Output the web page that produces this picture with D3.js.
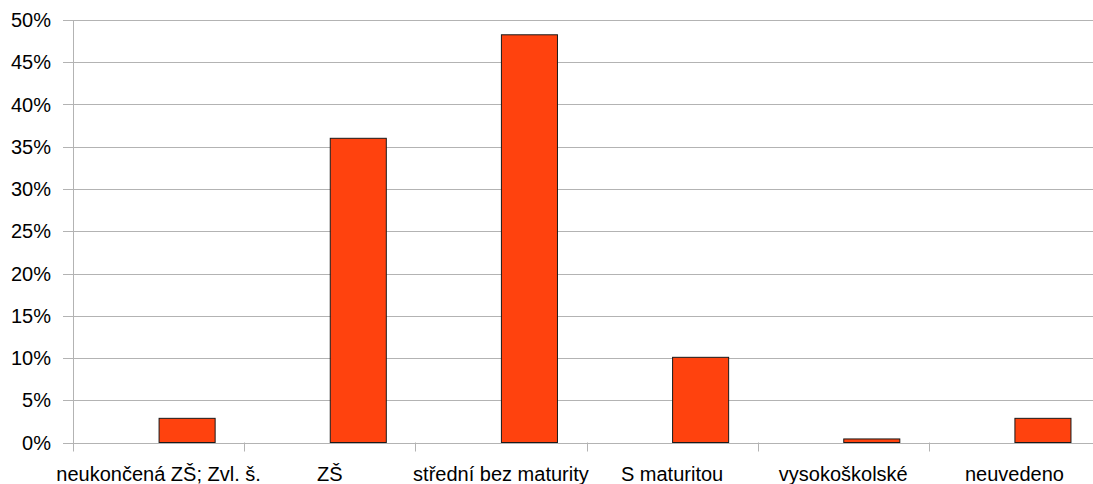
<!DOCTYPE html>
<html><head><meta charset="utf-8">
<script src="https://cdn.jsdelivr.net/npm/d3@7"></script>
<style>body{margin:0;background:#fff;}svg{display:block;font-family:"Liberation Sans",Arial,sans-serif;}</style>
</head><body>
<svg id="c" width="1093" height="484"></svg>
<script>
const categories = ["neukončená ZŠ; Zvl. š.", "ZŠ", "střední bez maturity", "S maturitou", "vysokoškolské", "neuvedeno"];
const emptySeries = [0, 0, 0, 0, 0, 0];
const values = [2.86, 36.0, 48.25, 10.08, 0.42, 2.86];
const yTicks = [0, 5, 10, 15, 20, 25, 30, 35, 40, 45, 50];

(function () {
const svg = d3.select("#c");
const mLeft = 73, mRight = 1100, mTop = 20, mBottom = 442.5;
const x = d3.scaleBand().domain(categories).range([mLeft, mRight]).paddingInner(0).paddingOuter(0);
const y = d3.scaleLinear().domain([0, 50]).range([mBottom, mTop]);
const sub = d3.scaleBand().domain(["a", "b"]).range([0, x.bandwidth()]).paddingInner(0).paddingOuter(0.5);

// gridlines
svg.append("g").selectAll("line").data(yTicks).join("line")
  .attr("x1", mLeft - 10).attr("x2", 1093)
  .attr("y1", d => Math.round(y(d)) + 0.5).attr("y2", d => Math.round(y(d)) + 0.5)
  .attr("stroke", "#b3b3b3").attr("stroke-width", 1);

// y axis line
svg.append("line").attr("x1", mLeft + 0.5).attr("x2", mLeft + 0.5).attr("y1", mTop).attr("y2", mBottom + 9)
  .attr("stroke", "#b3b3b3");

// x ticks
svg.append("g").selectAll("line").data(categories.slice(1)).join("line")
  .attr("x1", d => Math.round(x(d)) + 0.5).attr("x2", d => Math.round(x(d)) + 0.5)
  .attr("y1", mBottom).attr("y2", mBottom + 9).attr("stroke", "#b3b3b3");

// y labels
svg.append("g").selectAll("text").data(yTicks).join("text")
  .attr("x", 51).attr("y", d => y(d)).attr("dy", "0.36em")
  .attr("text-anchor", "end").attr("font-size", 20).attr("fill", "#000")
  .text(d => d + "%");

// x labels
svg.append("g").selectAll("text").data(categories).join("text")
  .attr("x", d => x(d) + x.bandwidth() / 2).attr("y", 481)
  .attr("text-anchor", "middle").attr("font-size", 20).attr("fill", "#000")
  .text(d => d);

// bars (second series; first series empty)
svg.append("g").selectAll("rect").data(categories.map((c, i) => ({c, v: values[i]}))).join("rect")
  .attr("x", d => x(d.c) + sub("b") + 0.5)
  .attr("width", sub.bandwidth() - 1)
  .attr("y", d => y(d.v))
  .attr("height", d => mBottom - y(d.v))
  .attr("fill", "#ff420e").attr("stroke", "#1a1a1a").attr("stroke-width", 1);
})();
</script>
</body></html>
